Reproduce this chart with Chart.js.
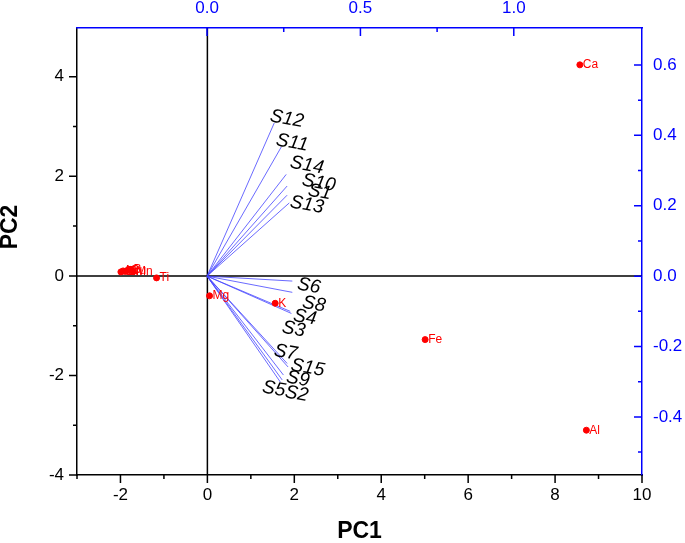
<!DOCTYPE html>
<html>
<head>
<meta charset="utf-8">
<script src="https://cdn.jsdelivr.net/npm/chart.js@4.4.1/dist/chart.umd.min.js"></script>
<style>
  html, body { margin: 0; padding: 0; background: #fff; }
  #wrap { width: 685px; height: 543px; }
</style>
</head>
<body>
<div id="wrap"><canvas id="chart" width="685" height="543"></canvas></div>
<script>
// Scores (elements) on PC1 / PC2
const elementNames = ['Ca', 'Fe', 'Al', 'K', 'Mg', 'Ti', 'Cr', 'Ni', 'Zn', 'Cu', 'B', 'Mn'];
const elementPC1 = [8.57, 5.01, 8.72, 1.56, 0.05, -1.17, -1.99, -1.94, -1.89, -1.83, -1.77, -1.71];
const elementPC2 = [4.24, -1.28, -3.1, -0.55, -0.4, -0.04, 0.08, 0.1, 0.09, 0.11, 0.13, 0.09];

// Loadings (samples), read on the top / right axes
const sampleNames = ['S1', 'S2', 'S3', 'S4', 'S5', 'S6', 'S7', 'S8', 'S9', 'S10', 'S11', 'S12', 'S13', 'S14', 'S15'];
const loadingPC1 = [0.261, 0.245, 0.271, 0.275, 0.239, 0.278, 0.261, 0.278, 0.249, 0.261, 0.242, 0.219, 0.268, 0.258, 0.264];
const loadingPC2 = [0.230, -0.295, -0.100, -0.106, -0.301, -0.014, -0.248, -0.046, -0.281, 0.256, 0.367, 0.435, 0.208, 0.289, -0.258];

// label nudges in pixels (style only)
const sampleLabelShift = [[21, -5], [3, 12], [-8, 16], [2, 2], [-18, 5], [5, 3], [-13, -13], [10, 10], [3, 2], [15, -6], [-5, -7], [-4, -7], [1, -1], [4, -12], [3, -2]];

const BLUE = '#0000ff';
const VECTOR_BLUE = '#4444ff';
const RED = '#ff0000';
const FONT = 'Liberation Sans, Arial, sans-serif';

const datasets = [];
datasets.push({
    type: 'scatter',
    label: 'scores',
    data: elementNames.map((n, i) => ({ x: elementPC1[i], y: elementPC2[i] })),
    backgroundColor: RED,
    borderColor: RED,
    pointRadius: 3,
    xAxisID: 'x',
    yAxisID: 'y'
});
sampleNames.forEach((n, i) => {
    datasets.push({
        type: 'line',
        label: n,
        data: [{ x: 0, y: 0 }, { x: loadingPC1[i], y: loadingPC2[i] }],
        borderColor: VECTOR_BLUE,
        borderWidth: 0.8,
        pointRadius: 0,
        fill: false,
        xAxisID: 'x2',
        yAxisID: 'y2'
    });
});

function isMultiple(v, step) {
    return Math.abs(v / step - Math.round(v / step)) < 1e-6;
}
function keepSteps(step) {
    return (scale) => {
        scale.ticks = scale.ticks.filter(t => isMultiple(t.value, step));
    };
}

const axesPlugin = {
    id: 'axesPlugin',
    beforeDatasetsDraw(chart) {
        const { ctx, chartArea, scales } = chart;
        const x0 = scales.x.getPixelForValue(0);
        const y0 = scales.y.getPixelForValue(0);
        ctx.save();
        ctx.strokeStyle = '#000';
        ctx.lineWidth = 1.5;
        ctx.beginPath();
        ctx.moveTo(x0, chartArea.top);
        ctx.lineTo(x0, chartArea.bottom);
        ctx.moveTo(chartArea.left, y0);
        ctx.lineTo(chartArea.right, y0);
        ctx.stroke();
        ctx.restore();
    },
    afterDraw(chart) {
        const { ctx, chartArea, scales } = chart;
        ctx.save();
        ctx.lineWidth = 1.5;
        // black axes tick outward, blue axes tick inward
        const specs = [
            { s: scales.x, major: 2, color: '#000', side: 'bottom' },
            { s: scales.y, major: 2, color: '#000', side: 'left' },
            { s: scales.x2, major: 0.5, color: BLUE, side: 'top' },
            { s: scales.y2, major: 0.2, color: BLUE, side: 'right' }
        ];
        specs.forEach(({ s, major, color, side }) => {
            ctx.strokeStyle = color;
            ctx.beginPath();
            s.ticks.forEach(t => {
                const len = isMultiple(t.value, major) ? 8 : 4;
                const p = s.getPixelForValue(t.value);
                if (side === 'bottom') { ctx.moveTo(p, chartArea.bottom); ctx.lineTo(p, chartArea.bottom + len); }
                if (side === 'top') { ctx.moveTo(p, chartArea.top); ctx.lineTo(p, chartArea.top + len); }
                if (side === 'left') { ctx.moveTo(chartArea.left, p); ctx.lineTo(chartArea.left - len, p); }
                if (side === 'right') { ctx.moveTo(chartArea.right, p); ctx.lineTo(chartArea.right - len, p); }
            });
            ctx.stroke();
        });
        // PC2 title (sits a bit above the axis centre in the original)
        ctx.fillStyle = '#000';
        ctx.font = 'bold 23px ' + FONT;
        ctx.textAlign = 'center';
        ctx.textBaseline = 'middle';
        ctx.translate(11, 227);
        ctx.rotate(-Math.PI / 2);
        ctx.fillText('PC2', 0, 0);
        ctx.restore();
    },
    afterDatasetsDraw(chart) {
        const { ctx, scales } = chart;
        ctx.save();
        // element labels
        ctx.fillStyle = RED;
        ctx.font = '12px ' + FONT;
        ctx.textAlign = 'left';
        ctx.textBaseline = 'middle';
        elementNames.forEach((n, i) => {
            const px = scales.x.getPixelForValue(elementPC1[i]);
            const py = scales.y.getPixelForValue(elementPC2[i]);
            ctx.fillText(n, px + 3, py);
        });
        // sample labels
        ctx.fillStyle = '#000';
        ctx.font = 'italic 19px ' + FONT;
        sampleNames.forEach((n, i) => {
            const px = scales.x2.getPixelForValue(loadingPC1[i]) + sampleLabelShift[i][0];
            const py = scales.y2.getPixelForValue(loadingPC2[i]) + sampleLabelShift[i][1];
            ctx.save();
            ctx.translate(px, py);
            ctx.rotate(10 * Math.PI / 180);
            ctx.fillText(n, 0, 0);
            ctx.restore();
        });
        ctx.restore();
    }
};

const tickFont = { family: FONT, size: 17 };
const titleFont = { family: FONT, size: 23, weight: 'bold', lineHeight: 1 };
const hiddenGrid = { display: true, drawOnChartArea: false, tickLength: 7, tickColor: 'rgba(0,0,0,0)' };

new Chart(document.getElementById('chart'), {
    data: { datasets },
    options: {
        responsive: false,
        animation: false,
        layout: { padding: 0 },
        plugins: { legend: { display: false }, tooltip: { enabled: false } },
        scales: {
            x: {
                type: 'linear', position: 'bottom', min: -3, max: 10,
                ticks: { stepSize: 1, font: tickFont, color: '#000', padding: 3, maxRotation: 0,
                    callback: v => isMultiple(v, 2) ? v : '' },
                afterBuildTicks: keepSteps(1),
                afterFit: s => { s.height = 68; },
                grid: hiddenGrid,
                border: { color: '#000', width: 1.5 },
                title: { display: true, text: 'PC1', font: titleFont, color: '#000', padding: { top: 0, bottom: 0 } }
            },
            y: {
                type: 'linear', position: 'left', min: -4, max: 4.98,
                ticks: { stepSize: 1, font: tickFont, color: '#000', padding: 6,
                    callback: v => isMultiple(v, 2) ? v : '' },
                afterBuildTicks: keepSteps(1),
                afterFit: s => { s.width = 77; },
                grid: hiddenGrid,
                border: { color: '#000', width: 1.5 }
            },
            x2: {
                type: 'linear', position: 'top', min: -0.424, max: 1.418,
                ticks: { stepSize: 0.25, font: tickFont, color: BLUE, padding: 2, maxRotation: 0,
                    callback: v => isMultiple(v, 0.5) ? v.toFixed(1) : '' },
                afterBuildTicks: keepSteps(0.25),
                afterFit: s => { s.height = 28; },
                grid: hiddenGrid,
                border: { color: BLUE, width: 1.5 }
            },
            y2: {
                type: 'linear', position: 'right', min: -0.565, max: 0.705,
                ticks: { stepSize: 0.1, font: tickFont, color: BLUE, padding: 4,
                    callback: v => isMultiple(v, 0.2) ? v.toFixed(1) : '' },
                afterBuildTicks: keepSteps(0.1),
                afterFit: s => { s.width = 43; },
                grid: hiddenGrid,
                border: { color: BLUE, width: 1.5 }
            }
        }
    },
    plugins: [axesPlugin]
});
</script>
</body>
</html>
